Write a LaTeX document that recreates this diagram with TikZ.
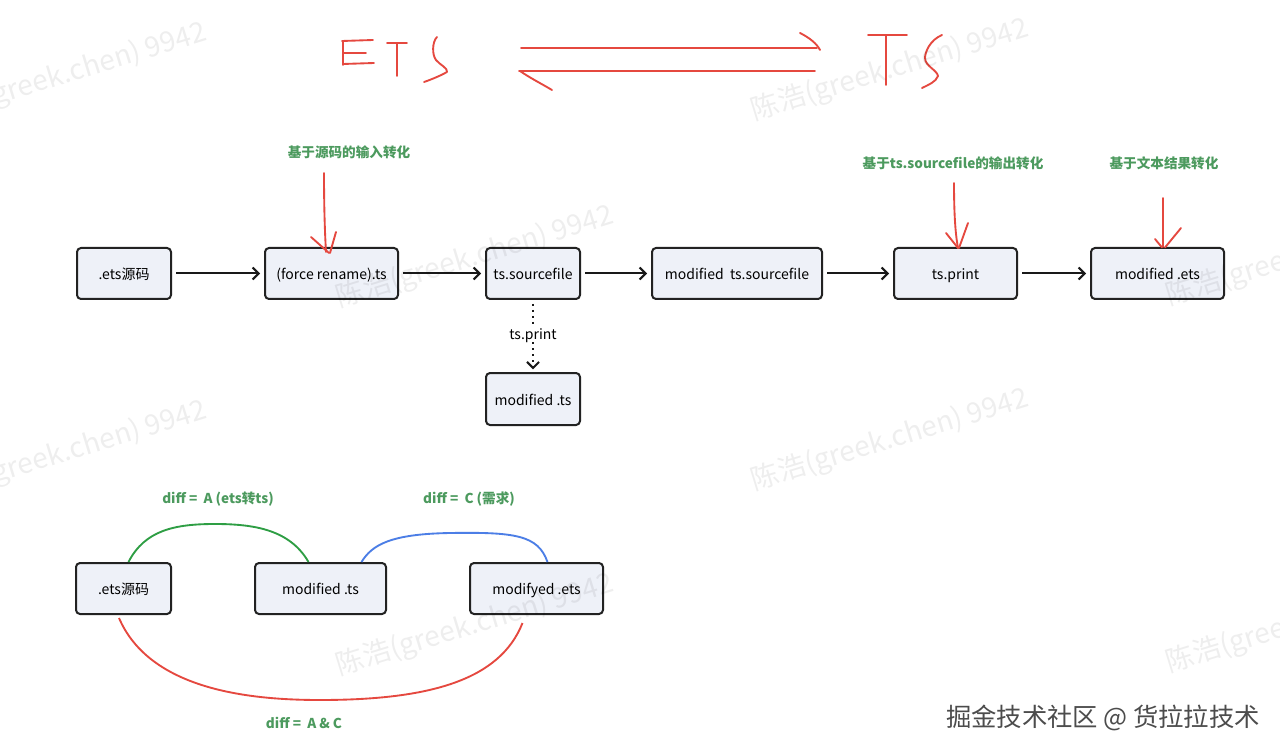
\documentclass[tikz,border=0pt]{standalone}
\usepackage{fontspec}
\newfontfamily\cjk{Noto Sans CJK SC}
\usetikzlibrary{arrows.meta,calc}
\definecolor{boxfill}{HTML}{EEF1F8}
\definecolor{boxline}{HTML}{222222}
\definecolor{lblgreen}{HTML}{4C9A5E}
\definecolor{cgreen}{HTML}{2E9E44}
\definecolor{cblue}{HTML}{4C7EE6}
\definecolor{cred}{HTML}{E5483F}
\begin{document}
\begin{tikzpicture}[x=0.75pt,y=-0.75pt,
  every node/.style={font=\cjk},
  stepbox/.style={draw=boxline, line width=1.5pt, fill=boxfill, rounded corners=3pt,
    minimum height=38.25pt, inner sep=0pt, text height=9.6pt, text depth=0pt,
    font=\cjk\fontsize{10.5}{12}\selectfont},
  flow/.style={draw=black!90, line width=1.5pt,
    -{Straight Barb[length=4.5pt,width=9pt]}, shorten <=3pt, shorten >=3pt},
  dotflow/.style={draw=black!90, line width=1.5pt, dash pattern=on 1.5pt off 3pt,
    -{Straight Barb[length=4.5pt,width=9pt]}},
  glabel/.style={text=lblgreen, font=\cjk\bfseries\fontsize{10.2}{12}\selectfont},
  hand/.style={draw=cred, line width=1.4pt, line cap=round, line join=round},
  wmark/.style={text=black, opacity=0.065, rotate=17, font=\cjk\fontsize{21}{24}\selectfont}
]
\useasboundingbox (0,0) rectangle (1280,755);
\fill[white] (0,0) rectangle (1280,755);

% ---- ETS <=> TS sketch ----
\draw[hand] (343,41) -- (343,65);
\draw[hand] (342,41) -- (373,40);
\draw[hand] (343,53) -- (366,53);
\draw[hand] (343,64) -- (374,63);
\draw[hand] (387,43) -- (407,43);
\draw[hand] (397,43) -- (397,76);
\draw[hand] (437,37) .. controls (432,42) and (432,55) .. (436,60)
  .. controls (440,65) and (448,68) .. (447,72)
  .. controls (440,76) and (430,80) .. (424,82);
\draw[hand] (521,48) -- (817,48);
\draw[hand] (800,33) .. controls (810,38) and (817,44) .. (820,50);
\draw[hand] (519,71) -- (815,71);
\draw[hand] (520,71) .. controls (530,78) and (542,84) .. (552,90);
\draw[hand] (868,35) -- (907,35);
\draw[hand] (886,35) -- (886,85);
\draw[hand] (942,35) .. controls (930,40) and (925,52) .. (925,58)
  .. controls (925,66) and (937,70) .. (938,76)
  .. controls (936,82) and (928,85) .. (922,88);

% ---- main flow ----
\node[stepbox, minimum width=70.5pt]  (e1) at (124,273.5) {.ets源码};
\node[stepbox, minimum width=99.75pt] (e2) at (331.5,273.5) {(force rename).ts};
\node[stepbox, minimum width=70.5pt]  (e3) at (533,273.5) {ts.sourcefile};
\node[stepbox, minimum width=127.5pt] (e4) at (737,273.5) {modified\ \ ts.sourcefile};
\node[stepbox, minimum width=92.25pt] (e5) at (955.5,273.5) {ts.print};
\node[stepbox, minimum width=99.75pt] (e6) at (1157.5,273.5) {modified .ets};
\node[stepbox, minimum width=70.5pt, minimum height=39pt] (e7) at (533,399) {modified .ts};

\draw[flow] (e1) -- (e2);
\draw[flow] (e2) -- (e3);
\draw[flow] (e3) -- (e4);
\draw[flow] (e4) -- (e5);
\draw[flow] (e5) -- (e6);

\node[font=\cjk\fontsize{10.5}{12}\selectfont, text height=9.6pt, text depth=0pt, inner sep=2pt] (tp) at (533,333) {ts.print};
\draw[dotflow, -] ($(e3.south)+(0,4)$) -- (tp.north);
\draw[dotflow, shorten >=2pt] (tp.south) -- (e7.north);

% ---- green labels and red hand arrows ----
\node[glabel] (l1) at (349,152) {基于源码的输入转化};
\node[glabel] (l2) at (953,163) {基于ts.sourcefile的输出转化};
\node[glabel] (l3) at (1164,163) {基于文本结果转化};

\coordinate (r1s) at (324,173);
\coordinate (r1e) at (326,252);
\draw[hand] (r1s) .. controls (324,210) and (325,235) .. (r1e);
\draw[hand] (311,237) -- (329,253);
\draw[hand] (336,232) -- (330,253);

\coordinate (r2s) at (954,183);
\coordinate (r2e) at (958,248);
\draw[hand] (r2s) .. controls (954,210) and (955,232) .. (r2e);
\draw[hand] (946,233) -- (958,248);
\draw[hand] (968,223) -- (959,248);

\coordinate (r3s) at (1163,198);
\coordinate (r3e) at (1163,247);
\draw[hand] (r3s) -- (r3e);
\draw[hand] (1155,239) -- (1162,247.5);
\draw[hand] (1181,228) -- (1165,247.5);

% ---- diff section ----
\node[stepbox, minimum width=71.25pt] (b1) at (123.5,588.5) {.ets源码};
\node[stepbox, minimum width=98.25pt] (b2) at (320.5,588.5) {modified .ts};
\node[stepbox, minimum width=99.75pt] (b3) at (536.5,588.5) {modifyed .ets};

\draw[cgreen, line width=1.4pt] ($(b1.north)+(5,0)$) .. controls (145,530) and (175,524) .. (215,524)
  .. controls (255,524) and (290,530) .. ($(b2.north)+(-12,0)$);
\draw[cblue, line width=1.4pt] ($(b2.north)+(41,0)$) .. controls (372,545) and (390,534) .. (450,533)
  .. controls (515,532) and (538,535) .. ($(b3.north)+(11,0)$);
\draw[cred, line width=1.4pt] ($(b1.south)+(-4.5,3)$) .. controls (150,690) and (250,700) .. (320,700)
  .. controls (430,700) and (500,680) .. ($(b3.south)+(-14,8)$);

\node[glabel] (d1) at (218,499) {diff =\ \ A (ets转ts)};
\node[glabel] (d2) at (469,499) {diff =\ \ C (需求)};
\node[glabel] (d3) at (304,723) {diff =\ \ A \& C};

% ---- watermarks ----
\foreach \p in {(68,74),(890,70),(475,257),(68,452),(890,440),(1305,255),(475,625),(1305,622)}
  \node[wmark] at \p {陈浩(greek.chen) 9942};
\node[text=black!70, font=\cjk\fontsize{19}{22}\selectfont] (wm) at (1103,718) {掘金技术社区 @ 货拉拉技术};
\end{tikzpicture}
\end{document}
